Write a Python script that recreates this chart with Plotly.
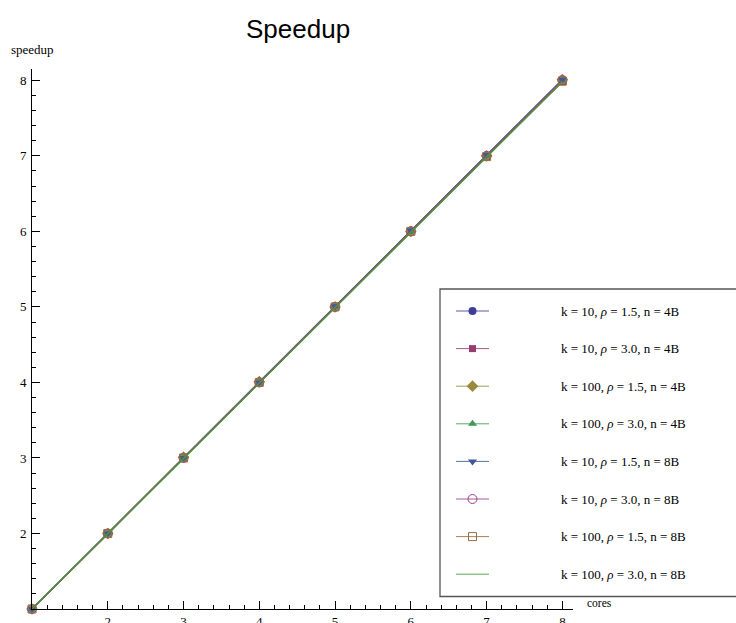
import plotly.graph_objects as go
import numpy as np

# ---------------- data ----------------
cores = [1, 2, 3, 4, 5, 6, 7, 8]

s_k10_r15_4B = [1.0, 2.00, 3.00, 4.01, 5.00, 6.01, 7.00, 8.01]
s_k10_r30_4B = [1.0, 1.99, 3.00, 4.00, 5.00, 6.00, 6.99, 7.98]
s_k100_r15_4B = [1.0, 2.00, 3.01, 4.01, 5.00, 6.00, 7.00, 8.01]
s_k100_r30_4B = [1.0, 2.00, 3.00, 4.00, 5.00, 6.00, 7.00, 8.00]
s_k10_r15_8B = [1.0, 2.00, 3.00, 4.00, 5.01, 6.01, 7.01, 8.01]
s_k10_r30_8B = [1.0, 2.00, 3.00, 4.00, 5.00, 6.00, 7.00, 8.00]
s_k100_r15_8B = [1.0, 2.00, 3.00, 4.00, 5.00, 6.00, 6.99, 7.99]
s_k100_r30_8B = [1.0, 1.99, 2.99, 3.99, 4.99, 5.99, 6.99, 7.98]

series_values = [s_k10_r15_4B, s_k10_r30_4B, s_k100_r15_4B, s_k100_r30_4B,
                 s_k10_r15_8B, s_k10_r30_8B, s_k100_r15_8B, s_k100_r30_8B]
series_names = [
    "k = 10, <i>ρ</i> = 1.5, n = 4B",
    "k = 10, <i>ρ</i> = 3.0, n = 4B",
    "k = 100, <i>ρ</i> = 1.5, n = 4B",
    "k = 100, <i>ρ</i> = 3.0, n = 4B",
    "k = 10, <i>ρ</i> = 1.5, n = 8B",
    "k = 10, <i>ρ</i> = 3.0, n = 8B",
    "k = 100, <i>ρ</i> = 1.5, n = 8B",
    "k = 100, <i>ρ</i> = 3.0, n = 8B",
]
x_tick_labels = ["2", "3", "4", "5", "6", "7", "8"]
y_tick_labels = ["2", "3", "4", "5", "6", "7", "8"]

# ---------------- styles ----------------
colors = ["rgb(63,61,153)", "rgb(153,61,113)", "rgb(153,139,61)", "rgb(61,153,86)",
          "rgb(61,90,153)", "rgb(153,61,144)", "rgb(153,109,61)", "rgb(67,153,61)"]
symbols = ["circle", "square", "diamond", "triangle-up", "triangle-down",
           "circle-open", "square-open", None]
sizes = [8, 7, 9, 8, 8, 9, 8, 0]

W, H = 736, 623
ML, MR, MT, MB = 32, 0, 69, 14
PW, PH = W - ML - MR, H - MT - MB


def pxx(p):
    return (p - ML) / PW


def pxy(p):
    return (H - MB - p) / PH


serif = "Liberation Serif, Times New Roman, serif"
sans = "Liberation Sans, Arial, sans-serif"

fig = go.Figure()

for vals, name, c, sym, sz in zip(series_values, series_names, colors, symbols, sizes):
    if sym is None:
        fig.add_trace(go.Scatter(x=cores, y=vals, mode="lines", name=name,
                                 line=dict(color=c, width=1.2), cliponaxis=False,
                                 showlegend=False))
    else:
        fig.add_trace(go.Scatter(x=cores, y=vals, mode="lines+markers", name=name,
                                 line=dict(color=c, width=1.2),
                                 marker=dict(symbol=sym, size=sz, color=c,
                                             line=dict(color=c, width=1 if "open" in sym else 0)),
                                 cliponaxis=False, showlegend=False))

# ---------------- custom legend (pixel-space overlay axes) ----------------
row_y = [311 + 37.6 * i for i in range(8)]
for i, (name, c, sym, sz) in enumerate(zip(series_names, colors, symbols, sizes)):
    y = row_y[i]
    fig.add_trace(go.Scatter(x=[456, 489], y=[y, y], mode="lines", xaxis="x2", yaxis="y2",
                             line=dict(color=c, width=1), opacity=0.85,
                             showlegend=False, hoverinfo="skip", cliponaxis=False))
    if sym is not None:
        fig.add_trace(go.Scatter(x=[472.5], y=[y], mode="markers", xaxis="x2", yaxis="y2",
                                 marker=dict(symbol=sym, size=sz, color=c,
                                             line=dict(color=c, width=1 if "open" in sym else 0)),
                                 showlegend=False, hoverinfo="skip", cliponaxis=False))
    fig.add_annotation(x=559, y=y, xref="x2", yref="y2", text=name, showarrow=False,
                       xanchor="left", yanchor="middle",
                       font=dict(family=serif, size=13, color="black"))

fig.add_shape(type="rect", xref="x2", yref="y2", x0=440, x1=745, y0=289, y1=596.5,
              line=dict(color="#555555", width=1.3), fillcolor="rgba(0,0,0,0)")

major_x = [2, 3, 4, 5, 6, 7, 8]
minor_vals = [round(v, 1) for v in np.arange(1.2, 8.01, 0.2) if abs(v - round(v)) > 1e-6]

fig.update_layout(
    width=W, height=H,
    margin=dict(l=ML, r=MR, t=MT, b=MB),
    paper_bgcolor="white", plot_bgcolor="rgba(0,0,0,0)",
    showlegend=False,
    xaxis=dict(domain=[0, 541 / PW], range=[1, 8.14], showgrid=False, zeroline=False,
               showline=True, linecolor="black", linewidth=1,
               tickmode="array", tickvals=major_x, ticktext=x_tick_labels,
               ticks="inside", ticklen=8, tickwidth=1, tickcolor="black",
               ticklabelstandoff=0,
               tickfont=dict(family=serif, size=13, color="black"),
               minor=dict(tickmode="array", tickvals=minor_vals, ticks="inside",
                          ticklen=4, tickwidth=1, tickcolor="black"),
               automargin=False, anchor="y"),
    yaxis=dict(domain=[0, 1], range=[1, 8.15], showgrid=False, zeroline=False,
               showline=True, linecolor="black", linewidth=1,
               tickmode="array", tickvals=major_x, ticktext=y_tick_labels,
               ticks="inside", ticklen=8, tickwidth=1, tickcolor="black",
               ticklabelstandoff=2,
               tickfont=dict(family=serif, size=13, color="black"),
               minor=dict(tickmode="array", tickvals=minor_vals, ticks="inside",
                          ticklen=4, tickwidth=1, tickcolor="black"),
               automargin=False, anchor="x"),
    xaxis2=dict(domain=[0, 1], range=[ML, W - MR], visible=False, anchor="y2",
                fixedrange=True),
    yaxis2=dict(domain=[0, 1], range=[H - MB, MT], visible=False, anchor="x2",
                fixedrange=True),
)

# title and axis labels
fig.add_annotation(x=pxx(298), y=pxy(29), xref="paper", yref="paper", text="Speedup",
                   showarrow=False, xanchor="center", yanchor="middle",
                   font=dict(family=sans, size=26, color="black"))
fig.add_annotation(x=pxx(32), y=pxy(49), xref="paper", yref="paper", text="speedup",
                   showarrow=False, xanchor="center", yanchor="middle",
                   font=dict(family=serif, size=13, color="black"))
fig.add_annotation(x=pxx(585), y=pxy(603), xref="paper", yref="paper", text="cores",
                   showarrow=False, xanchor="left", yanchor="middle",
                   font=dict(family=serif, size=11.5, color="black"))

fig.write_html("out.html", config={"displayModeBar": False},
               post_script="document.body.style.margin='0';")
